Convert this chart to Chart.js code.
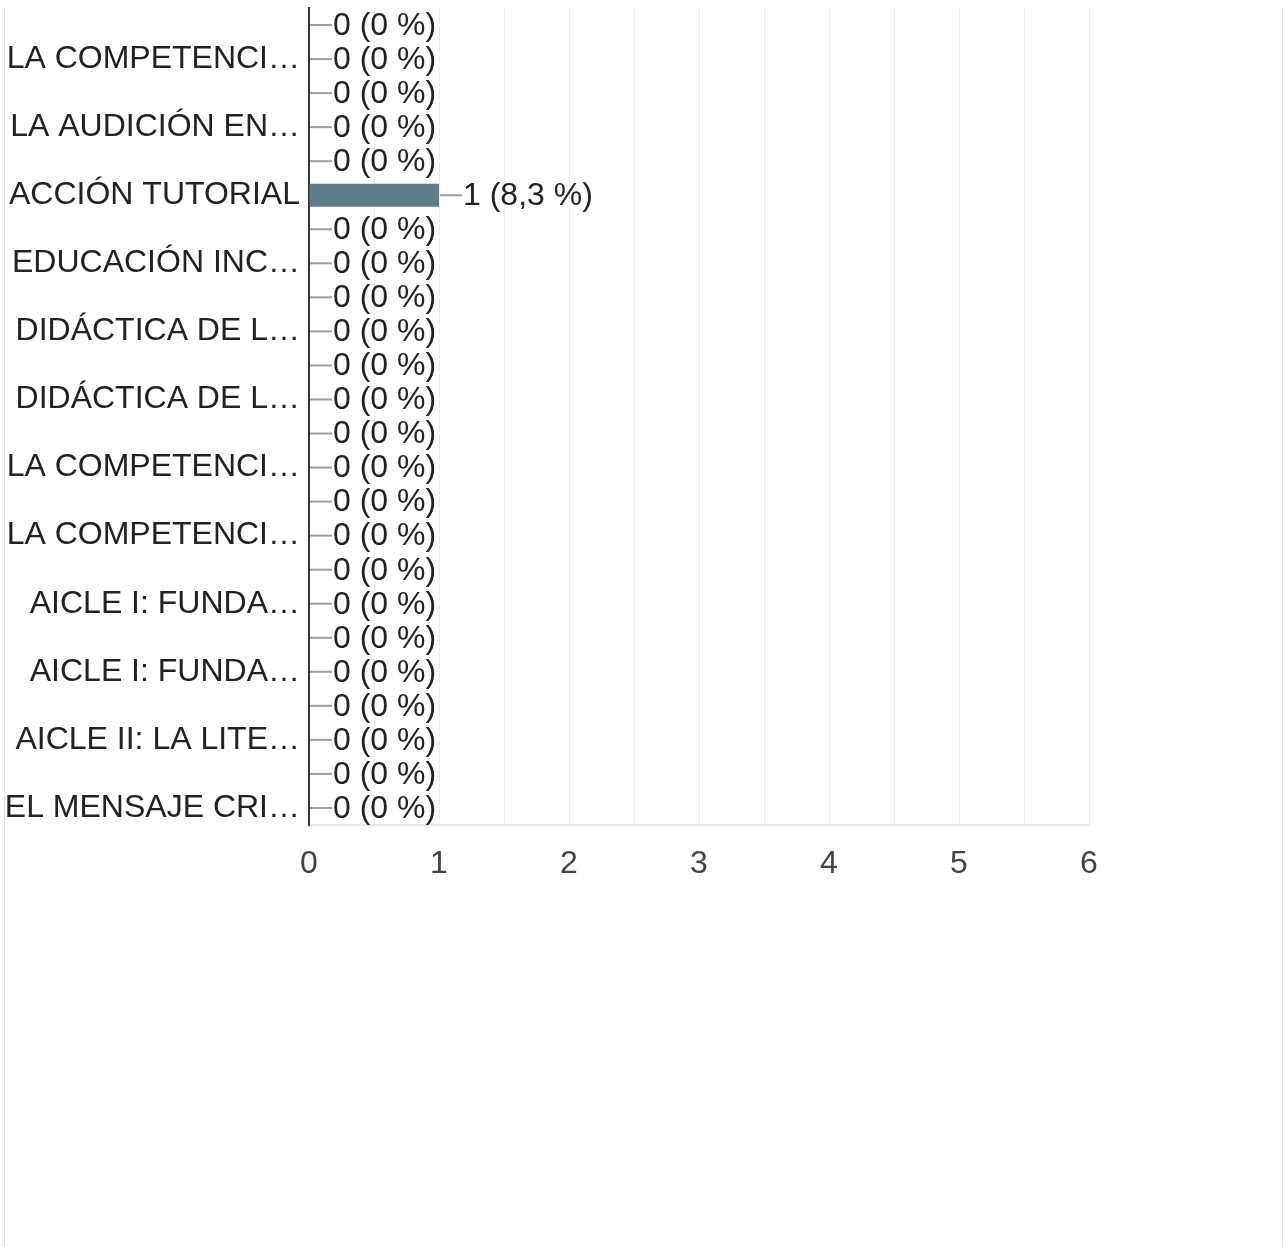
<!DOCTYPE html>
<html>
<head>
<meta charset="utf-8">
<script src="https://cdn.jsdelivr.net/npm/chart.js@4/dist/chart.umd.min.js"></script>
<style>
  html, body { margin: 0; padding: 0; background: #fff; }
  #wrap { position: relative; width: 1284px; height: 1247px; overflow: hidden; }
  #card {
    position: absolute; left: 4px; top: 8px; width: 1277px; height: 1244px;
    border: 1px solid #dadce0; border-top: none; border-radius: 0 0 8px 8px;
  }
  #chartBox { position: absolute; left: 0; top: 0; width: 1284px; height: 1247px; }
</style>
</head>
<body>
<div id="wrap">
  <div id="card"></div>
  <div id="chartBox"><canvas id="respChart"></canvas></div>
</div>
<script>
// answer options (only every other one gets a visible label)
const categories = [
  '', 'LA COMPETENCI…', '', 'LA AUDICIÓN EN…', '', 'ACCIÓN TUTORIAL',
  '', 'EDUCACIÓN INC…', '', 'DIDÁCTICA DE L…', '', 'DIDÁCTICA DE L…',
  '', 'LA COMPETENCI…', '', 'LA COMPETENCI…', '', 'AICLE I: FUNDA…',
  '', 'AICLE I: FUNDA…', '', 'AICLE II: LA LITE…', '', 'EL MENSAJE CRI…'
];
const counts = [0, 0, 0, 0, 0, 1, 0, 0, 0, 0, 0, 0, 0, 0, 0, 0, 0, 0, 0, 0, 0, 0, 0, 0];
const percents = [0, 0, 0, 0, 0, 8.3, 0, 0, 0, 0, 0, 0, 0, 0, 0, 0, 0, 0, 0, 0, 0, 0, 0, 0];
const xTicks = [0, 1, 2, 3, 4, 5, 6];

const FONT = '"Liberation Sans", Arial, sans-serif';

// "—n (p %)" annotation next to every bar end
const valueLabels = {
  id: 'valueLabels',
  afterDatasetsDraw(chart) {
    const c = chart.ctx;
    const meta = chart.getDatasetMeta(0);
    c.save();
    c.font = '32px ' + FONT;
    c.textBaseline = 'middle';
    c.textAlign = 'left';
    meta.data.forEach((bar, i) => {
      const x = bar.x, y = bar.y;
      c.strokeStyle = '#9e9e9e';
      c.lineWidth = 2;
      c.beginPath();
      c.moveTo(x + 1, y);
      c.lineTo(x + 23, y);
      c.stroke();
      c.fillStyle = '#222';
      const pct = String(percents[i]).replace('.', ',');
      c.fillText(counts[i] + ' (' + pct + ' %)', x + 24, y + 1);
    });
    c.restore();
  }
};

const ctx = document.getElementById('respChart').getContext('2d');
new Chart(ctx, {
  type: 'bar',
  data: {
    labels: categories,
    datasets: [{
      data: counts,
      backgroundColor: '#607d8b',
      barPercentage: 0.68,
      categoryPercentage: 1.0
    }]
  },
  options: {
    indexAxis: 'y',
    responsive: true,
    maintainAspectRatio: false,
    animation: false,
    layout: { padding: { left: 0, top: 8, right: 195, bottom: 362 } },
    plugins: { legend: { display: false }, tooltip: { enabled: false } },
    scales: {
      x: {
        min: 0,
        max: 6,
        afterFit: (s) => { s.height = 60; },
        afterBuildTicks: (s) => {
          const t = [];
          for (let v = 0; v <= 6; v += 0.5) t.push({ value: v });
          s.ticks = t;
        },
        ticks: {
          padding: 20,
          color: '#444',
          font: { family: FONT, size: 32 },
          callback: (v) => xTicks.includes(v) ? String(v) : ''
        },
        grid: {
          drawTicks: false,
          color: (c) => c.tick && c.tick.value === 0 ? 'rgba(0,0,0,0)' : '#ececec',
          lineWidth: 1
        },
        border: { display: true, color: '#e6e6e6', width: 2 }
      },
      y: {
        afterFit: (s) => {
          s.width = 309;
          s.paddingTop = 0;
          s.paddingBottom = 0;
        },
        ticks: {
          autoSkip: false,
          padding: 9,
          color: '#222',
          font: { family: FONT, size: 32 }
        },
        grid: { display: false, drawTicks: false },
        border: { display: true, color: '#333', width: 2 }
      }
    }
  },
  plugins: [valueLabels]
});
</script>
</body>
</html>
